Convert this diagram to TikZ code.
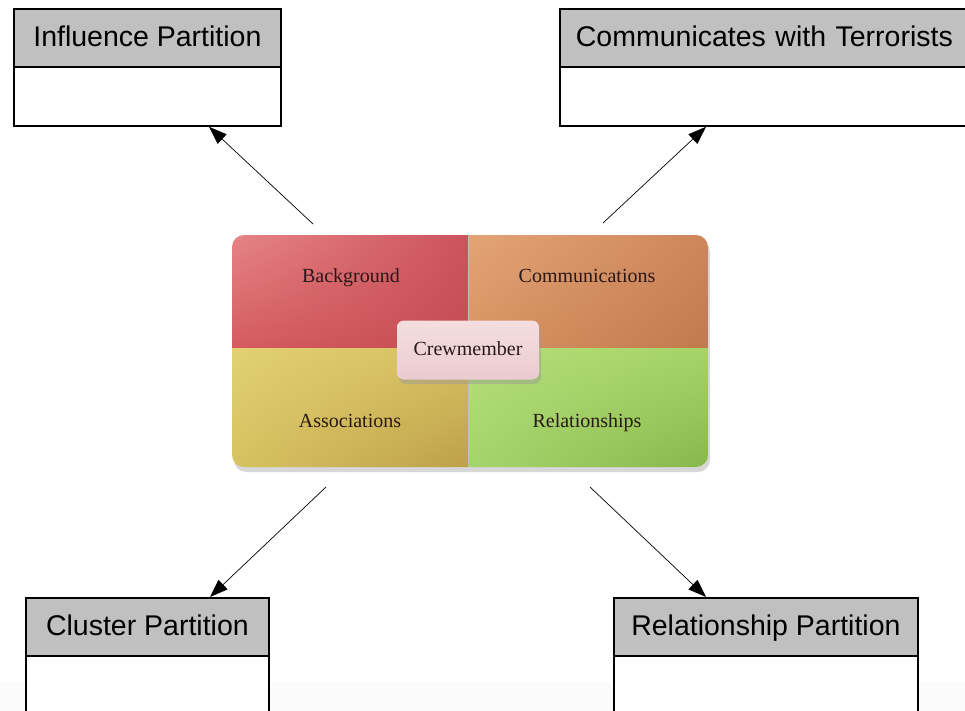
\documentclass[tikz,border=0pt]{standalone}
\usepackage{fontspec}
\setmainfont{Liberation Serif}
\newfontfamily\arialf{Liberation Sans}
\usetikzlibrary{arrows.meta,shadows,shadings}
\definecolor{hdrgray}{HTML}{C0C0C0}
\definecolor{qtxt}{HTML}{2A1818}
\definecolor{bgA}{RGB}{230,132,132}\definecolor{bgB}{RGB}{204,84,92}
\definecolor{bgC}{RGB}{212,92,96}\definecolor{bgD}{RGB}{196,76,82}
\definecolor{cmA}{RGB}{228,164,118}\definecolor{cmB}{RGB}{206,134,90}
\definecolor{cmC}{RGB}{216,146,98}\definecolor{cmD}{RGB}{192,122,78}
\definecolor{asA}{RGB}{226,208,114}\definecolor{asB}{RGB}{214,192,98}
\definecolor{asC}{RGB}{214,194,96}\definecolor{asD}{RGB}{190,160,74}
\definecolor{rlA}{RGB}{182,222,122}\definecolor{rlB}{RGB}{166,212,104}
\definecolor{rlC}{RGB}{164,212,108}\definecolor{rlD}{RGB}{136,184,76}
\definecolor{crT}{RGB}{245,222,224}\definecolor{crB}{RGB}{234,204,208}
\tikzset{
  hdr/.style={draw=black, line width=1.8pt, fill=hdrgray, minimum height=58pt, inner sep=0pt,
              text height=22pt, text depth=4pt,
              font=\arialf\fontsize{28.5}{32}\selectfont, anchor=north west},
  bodybox/.style={draw=black, line width=1.8pt, fill=white, minimum height=59pt, inner sep=0pt, anchor=north west},
  arr/.style={-{Triangle[length=18pt,width=13pt]}, line width=0.7pt},
  qlabel/.style={font=\fontsize{20}{24}\selectfont, text=qtxt, inner sep=0pt, text height=14pt, text depth=4pt}
}
\begin{document}
\begin{tikzpicture}[x=1pt,y=-1pt]
\useasboundingbox (0,0) rectangle (965,711);
\clip (0,0) rectangle (965,711);
\fill[black!1.5] (0,683) rectangle (965,711);

% partition boxes
\node[hdr, minimum width=267pt] (inf) at (13,8) {Influence Partition};
\node[bodybox, minimum width=267pt] (infb) at (13,66) {};
\node[hdr, minimum width=420pt, text width=400pt, align=left] (com) at (559,8) {\hspace*{6pt}Communicates with Terrorists};
\node[bodybox, minimum width=420pt] (comb) at (559,66) {};
\node[hdr, minimum width=243pt] (clu) at (25,597) {Cluster Partition};
\node[bodybox, minimum width=243pt, minimum height=80pt] (club) at (25,655) {};
\node[hdr, minimum width=304pt] (rel) at (613,597) {Relationship Partition};
\node[bodybox, minimum width=304pt, minimum height=80pt] (relb) at (613,655) {};

% matrix
\fill[black!35, opacity=0.45, rounded corners=12pt] (234,240) rectangle (710,472);
\begin{scope}
\clip[rounded corners=12pt] (232,235) rectangle (708,467);
\shade[upper left=bgA, upper right=bgB, lower left=bgC, lower right=bgD] (232,235) rectangle (468,348);
\shade[upper left=cmA, upper right=cmB, lower left=cmC, lower right=cmD] (468,235) rectangle (708,348);
\shade[upper left=asA, upper right=asB, lower left=asC, lower right=asD] (232,348) rectangle (468,467);
\shade[upper left=rlA, upper right=rlB, lower left=rlC, lower right=rlD] (468,348) rectangle (708,467);
\draw[black!25, line width=1pt] (468,235) -- (468,467);
\end{scope}
\node[qlabel] (bg) at (351,277) {Background};
\node[qlabel] (cm) at (587,277) {Communications};
\node[qlabel] (as) at (350,422) {Associations};
\node[qlabel] (rl) at (587,422) {Relationships};
\fill[black!40, opacity=0.45, rounded corners=7pt] (399,324) rectangle (541,384);
\node[qlabel, minimum width=142pt, minimum height=59pt, rounded corners=7pt,
      top color=crT, bottom color=crB] (crew) at (468,350) {Crewmember};

% arrows
\coordinate (s1) at (313,224);
\coordinate (s2) at (603,223);
\coordinate (s3) at (326,487);
\coordinate (s4) at (590,487);
\coordinate (t1) at (209,125);
\coordinate (t2) at (706,125);
\coordinate (t3) at (210,597);
\coordinate (t4) at (706,597);
\draw[arr] (s1) -- (t1 |- infb.south);
\draw[arr] (s2) -- (t2 |- comb.south);
\draw[arr] (s3) -- (t3 |- clu.north);
\draw[arr] (s4) -- (t4 |- rel.north);
\end{tikzpicture}
\end{document}
